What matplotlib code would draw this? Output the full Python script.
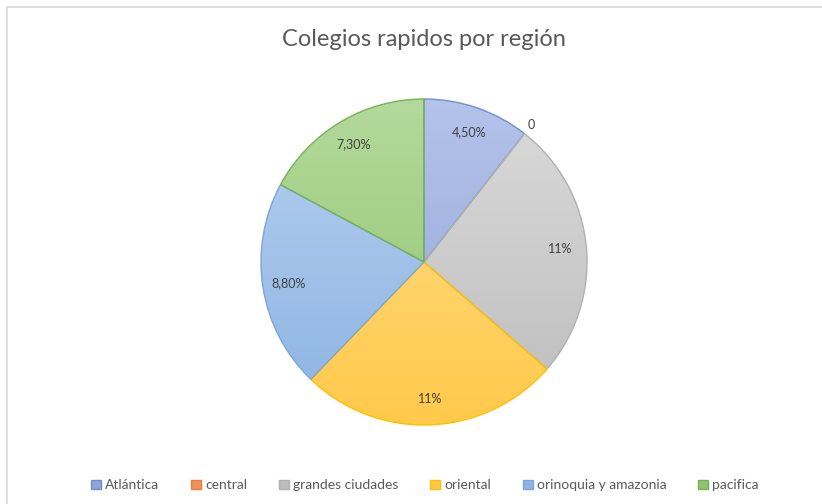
import numpy as np
import matplotlib

matplotlib.use("Agg")

import matplotlib.pyplot as plt
from matplotlib.patches import Rectangle

regions = ["Atlántica", "central", "grandes ciudades", "oriental",
           "orinoquia y amazonia", "pacifica"]
values = [4.5, 0.0, 11.0, 11.0, 8.8, 7.3]
value_labels = ["4,50%", "0", "11%", "11%", "8,80%", "7,30%"]

# (light top, dark bottom, edge)
colors = [
    ("#b4c3ea", "#8fa4d8", "#6f8fd0"),
    ("#f8b898", "#f09060", "#ed7d31"),
    ("#dadada", "#bdbdbd", "#b0b0b0"),
    ("#ffe08f", "#ffc94a", "#ffc000"),
    ("#b6d0ef", "#8cb3e3", "#7ba6dc"),
    ("#b4d99c", "#8ec46a", "#77b255"),
]

plt.rcParams["font.family"] = ["Lato", "DejaVu Sans"]

fig = plt.figure(figsize=(8.22, 5.04), dpi=100)
ax = fig.add_axes([0, 0, 1, 1])

cx, cy, r = 424, 242, 163
wedges, _ = ax.pie(
    values,
    startangle=90,
    counterclock=False,
    center=(cx, cy),
    radius=r,
    colors=[c[1] for c in colors],
    wedgeprops=dict(linewidth=1.0),
)

grad = np.linspace(0, 1, 256).reshape(-1, 1)
for w, (top, bot, edge), v in zip(wedges, colors, values):
    cmap = matplotlib.colors.LinearSegmentedColormap.from_list("g", [top, bot])
    im = ax.imshow(grad, cmap=cmap, aspect="auto", origin="upper",
                   extent=(cx - r, cx + r, cy - r, cy + r), zorder=1)
    im.set_clip_path(w)
    w.set_facecolor("none")
    w.set_edgecolor(edge)
    w.set_zorder(3)
    if v == 0:
        w.set_linewidth(0)

# data labels
for w, lab, v in zip(wedges, value_labels, values):
    ang = np.deg2rad((w.theta1 + w.theta2) / 2)
    dist = 0.84 if v > 0 else 1.07
    ax.text(cx + dist * r * np.cos(ang), cy + dist * r * np.sin(ang), lab,
            ha="center", va="center", fontsize=9, color="#404040", zorder=4)

ax.set_xlim(0, 822)
ax.set_ylim(0, 504)
ax.set_aspect("equal")
ax.axis("off")

ax.plot([7, 7, 822], [0, 497, 497], color="#d9d9d9", lw=1.2)

ax.text(cx, 464, "Colegios rapidos por región", ha="center", va="center",
        fontsize=17, color="#595959")

handles = [Rectangle((0, 0), 1, 1, facecolor=c[1], edgecolor=c[2], lw=1)
           for c in colors]
fig.legend(handles, regions, loc="center", bbox_to_anchor=(0.517, 0.037),
           ncol=6, frameon=False, fontsize=10, labelcolor="#595959",
           handlelength=0.7, handleheight=0.7, handletextpad=0.3,
           columnspacing=2.3)

fig.savefig("out.png", dpi=100)
